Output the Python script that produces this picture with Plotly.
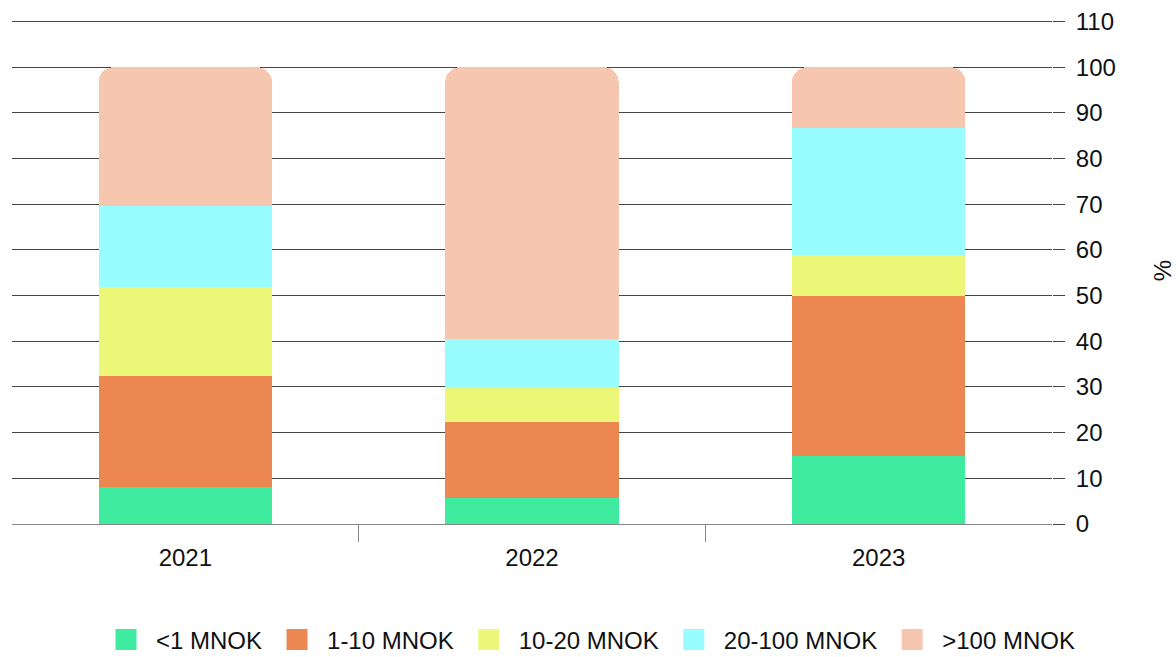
import plotly.graph_objects as go

years = ["2021", "2022", "2023"]
series_names = ["<1 MNOK", "1-10 MNOK", "10-20 MNOK", "20-100 MNOK", ">100 MNOK"]
lt1 = [8.1, 5.6, 14.8]
m1_10 = [24.4, 16.8, 35.1]
m10_20 = [19.4, 7.4, 8.9]
m20_100 = [17.8, 10.7, 28.0]
gt100 = [30.3, 59.5, 13.2]
colors = ["#3feb9f", "#ed8751", "#edf777", "#99fcff", "#f6c6ae"]
y_ticks = list(range(0, 111, 10))

FONT = "Liberation Sans, Arial, sans-serif"
FS = 24
fig = go.Figure()
for name, vals, col in zip(series_names, [lt1, m1_10, m10_20, m20_100, gt100], colors):
    fig.add_trace(go.Bar(x=years, y=vals, name=name, marker=dict(color=col, line=dict(width=0)),
                         showlegend=False))
# legend entries
for name, col in zip(series_names, colors):
    fig.add_trace(go.Scatter(x=[None], y=[None], mode="markers", name=name,
                             marker=dict(symbol="square", size=16, color=col,
                                         line=dict(color=col, width=5))))
# boundary ticks between categories
fig.add_trace(go.Scatter(x=[None], y=[None], xaxis="x2", showlegend=False, hoverinfo="skip"))

fig.update_layout(
    barmode="stack",
    bargap=0.5,
    barcornerradius=15,
    width=1176, height=657,
    margin=dict(l=12, r=124, t=17, b=133, autoexpand=False),
    paper_bgcolor="white", plot_bgcolor="white",
    font=dict(family=FONT, size=FS, color="#111"),
    xaxis=dict(type="category", showline=True, linecolor="#888", linewidth=1,
               ticks="outside", ticklen=12, tickcolor="rgba(0,0,0,0)",
               showgrid=False, tickfont=dict(size=FS), automargin=False),
    xaxis2=dict(overlaying="x", anchor="y", side="bottom", range=[-0.5, 2.5],
                tickvals=[0.5, 1.5], ticks="outside", ticklen=17, tickcolor="#888",
                tickwidth=1, showticklabels=False, showgrid=False, zeroline=False,
                showline=False, automargin=False),
    yaxis=dict(side="right", range=[0, 111], tickvals=y_ticks, ticks="outside",
               ticklen=12, tickcolor="#444", showgrid=True, gridcolor="#444",
               gridwidth=1, zeroline=False, tickfont=dict(size=FS), ticklabelstandoff=6,
               automargin=False,
               title=dict(text="%", standoff=40, font=dict(size=FS))),
    legend=dict(orientation="h", xref="container", yref="container", x=0.5, y=0.026,
                xanchor="center", yanchor="middle", font=dict(size=FS),
                traceorder="normal", itemwidth=50),
)
fig.write_html("out.html")
